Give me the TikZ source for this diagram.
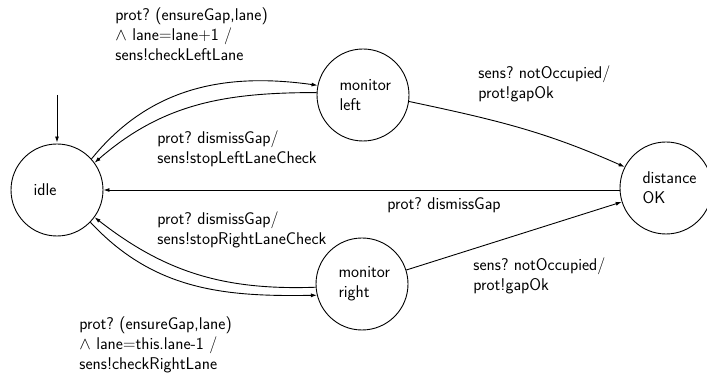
\documentclass[tikz,border=0pt]{standalone}
\usetikzlibrary{arrows.meta}
\begin{document}
\frenchspacing
\begin{tikzpicture}[x=1pt,y=-1pt,
  line width=0.9pt,
  >={Latex[length=6pt,width=4pt]},
  state/.style={circle,draw,minimum size=92pt,inner sep=0pt,
    text width=47pt,align=left,font=\sffamily\fontsize{17}{20}\selectfont},
  lbl/.style={anchor=base west,inner sep=0pt,align=left,
    font=\sffamily\fontsize{17}{20}\selectfont}]
\useasboundingbox (0,0) rectangle (707,379);

% states
\node[state] (idle) at (57,190) {idle};
\node[state] (ml)   at (363,95) {monitor\\left};
\node[state] (mr)   at (362,284) {monitor\\right};
\node[state] (dok)  at (666,188) {distance\\OK};
\coordinate (init) at (57,95);

% transitions
\draw[->,shorten >=1pt] (init) -- (idle.north);
\draw[->] (idle.42) to[out=51,in=172] (ml.168);
\draw[->] (ml.177) to[out=180,in=41] (idle.36);
\draw[->] (idle.-44) to[out=-47,in=181] (mr.194);
\draw[->] (mr.184) to[out=182,in=-38] (idle.-36);
\draw[->] (ml.-8) to[out=-12,in=156] (dok.153);
\draw[->] (dok.west |- idle.east) -- (idle.east);
\draw[->] (mr) -- (dok);

% transition labels (anchored at the baseline of the last line)
\node[lbl] (l1) at (115,61) {prot? (ensureGap,lane)\\$\wedge$ lane$=$lane$+$1 /\\sens!checkLeftLane};
\node[lbl] (l2) at (157,164) {prot? dismissGap/\\sens!stopLeftLaneCheck};
\node[lbl] (l3) at (478,99) {sens? notOccupied/\\prot!gapOk};
\node[lbl] (l4) at (387,210) {prot? dismissGap};
\node[lbl] (l5) at (157,245) {prot? dismissGap/\\sens!stopRightLaneCheck};
\node[lbl] (l6) at (473,291) {sens? notOccupied/\\prot!gapOk};
\node[lbl] (l7) at (79,370) {prot? (ensureGap,lane)\\$\wedge$ lane$=$this.lane-1 /\\sens!checkRightLane};
\end{tikzpicture}
\end{document}
